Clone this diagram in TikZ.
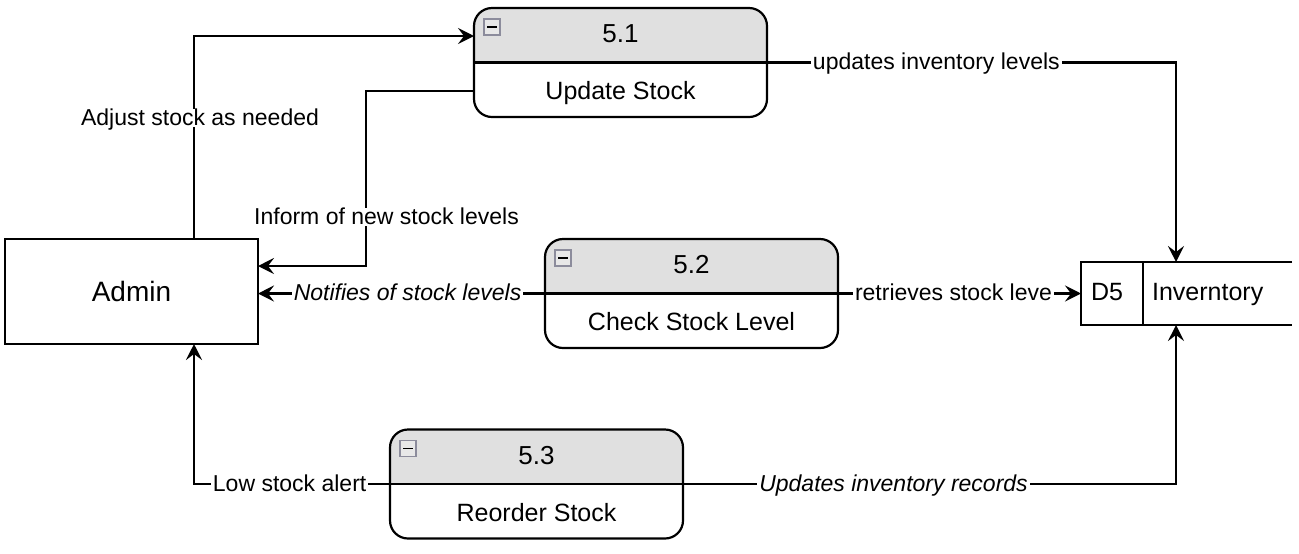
\documentclass[tikz,border=0pt]{standalone}
\usepackage{fontspec}
\setmainfont{Liberation Sans}
\usepackage{xcolor}
\usetikzlibrary{arrows.meta,positioning,calc}
\definecolor{headgray}{HTML}{E0E0E0}
\definecolor{icongray}{HTML}{8C8C9C}
\definecolor{iconfill}{HTML}{E8E8E8}
\newcommand{\ProcW}{146.5pt}
\newcommand{\ProcH}{54.5pt}

\begin{document}
\begin{tikzpicture}[x=0.5pt,y=-0.5pt,line width=1.1pt,
    flow/.style={-{Stealth[length=8pt,width=8pt,inset=3pt]}},
    lbl/.style={font=\fontsize{11.5}{13}\selectfont, fill=white, inner sep=1pt, text height=0.72em, text depth=0em},
    italbl/.style={lbl, font=\fontsize{11.5}{13}\selectfont\itshape},
    procbox/.style={minimum width=\ProcW, minimum height=\ProcH, inner sep=0pt, outer sep=0pt},
    proctext/.style={font=\fontsize{12.5}{14}\selectfont, inner sep=0pt, text height=0.72em, text depth=0em},
    minusicon/.style={draw=icongray, fill=iconfill, line width=0.6pt, minimum size=8pt, inner sep=0pt,
        path picture={\draw[black, line width=0.9pt] ([xshift=-2.3pt]path picture bounding box.center) -- ([xshift=2.3pt]path picture bounding box.center);}}]
    \useasboundingbox (0,0) rectangle (1299,553);

    % processes
    \foreach \id/\cx/\cy/\num/\title in {p51/620.5/62.5/5.1/Update Stock, p52/691.5/293.5/5.2/Check Stock Level, p53/536.5/484/5.3/Reorder Stock} {
        \node[procbox] (\id) at (\cx,\cy) {};
        \begin{scope}
            \clip (\id.north west) rectangle (\id.east);
            \fill[headgray, rounded corners=9pt] (\id.north west) rectangle (\id.south east);
        \end{scope}
        \draw[rounded corners=9pt] (\id.north west) rectangle (\id.south east);
        \draw (\id.west) -- (\id.east);
        \node[minusicon] (\id-icon) at ([xshift=9pt,yshift=-9.5pt]\id.north west) {};
        \node[proctext, font=\fontsize{13}{15}\selectfont] (\id-num) at ([yshift=13.5pt]\id.center) {\num};
        \node[proctext] (\id-title) at ([yshift=-15pt]\id.center) {\title};
    }

    % external entity
    \node[draw, minimum width=126.5pt, minimum height=52.5pt, outer sep=0pt, font=\fontsize{14}{16}\selectfont] (admin) at (131.5,291.5) {Admin};

    % data store
    \node[minimum width=105.5pt, minimum height=31.5pt, inner sep=0pt, outer sep=0pt] (inv) at (1186.5,293.5) {};
    \draw (inv.north east) -- (inv.north west) -- (inv.south west) -- (inv.south east);
    \draw ([xshift=31pt]inv.north west) -- ([xshift=31pt]inv.south west);
    \node[proctext] (inv-id) at ([xshift=13pt]inv.west) {D5};
    \node[proctext, anchor=west] (inv-name) at ([xshift=35pt]inv.west) {Inverntory};

    % flows
    \draw[flow] ([xshift=31.25pt]admin.north) |- ([yshift=13.25pt]p51.west)
        node[lbl, pos=0.298, xshift=3pt] {Adjust stock as needed};
    \coordinate (inform-bend) at (366,266);
    \draw[flow] ([yshift=-14.25pt]p51.west) -| (inform-bend)
        node[lbl, pos=0.86, xshift=10.25pt] {Inform of new stock levels}
        -- (inform-bend -| admin.east);
    \draw[flow] (p51.east) -| ([xshift=-5.25pt]inv.north)
        node[lbl, pos=0.207] {updates inventory levels};
    \draw[flow] (p52.west) -- (p52.west -| admin.east)
        node[italbl, pos=0.479] {Notifies of stock levels};
    \draw[flow] (p52.east) -- (p52.east -| inv.west)
        node[lbl, pos=0.475] {retrieves stock leve};
    \draw[flow] (p53.west) -| ([xshift=31.25pt]admin.south)
        node[lbl, pos=0.256] {Low stock alert};
    \draw[flow] (p53.east) -| ([xshift=-5.25pt]inv.south)
        node[italbl, pos=0.2135] {Updates inventory records};
\end{tikzpicture}
\end{document}
